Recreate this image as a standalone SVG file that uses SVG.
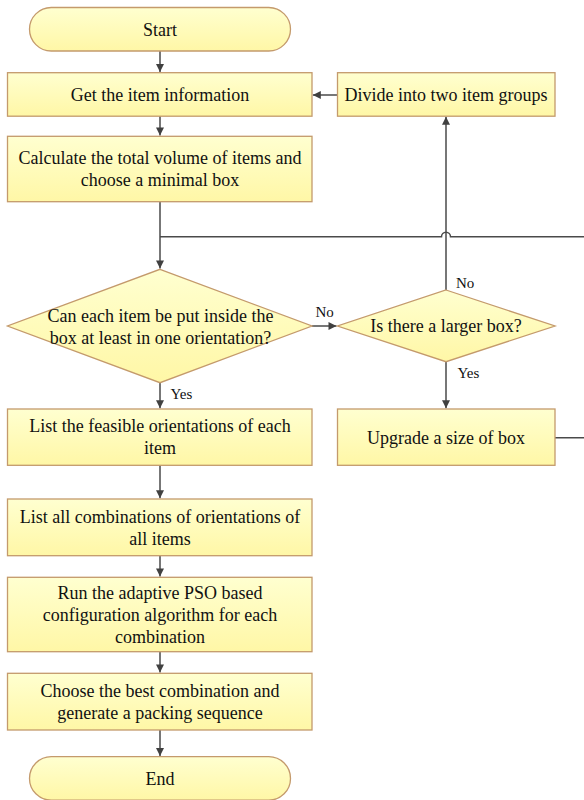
<svg xmlns="http://www.w3.org/2000/svg" width="584" height="800" viewBox="0 0 584 800">
<defs>
<linearGradient id="fill" x1="0" y1="0" x2="0" y2="1">
<stop offset="0" stop-color="#FFFFD0"/>
<stop offset="1" stop-color="#FFF7A6"/>
</linearGradient>
<marker id="arr" markerWidth="10" markerHeight="10" refX="9" refY="5" orient="auto" markerUnits="userSpaceOnUse">
<path d="M1,1 L9,5 L1,9 Z" fill="#404040"/>
</marker>
<style>
.n{fill:url(#fill);stroke:#C49A6C;stroke-width:1.3}
.t{font-family:'Liberation Serif','Times New Roman',Times,serif;font-size:18px;fill:#111;text-anchor:middle;dominant-baseline:central}
.l{font-family:'Liberation Serif','Times New Roman',Times,serif;font-size:15px;fill:#111;dominant-baseline:central}
.c{fill:none;stroke:#4A4A4A;stroke-width:1.5}
</style>
</defs>
<g id="connectors">
<path class="c" d="M160,51 V72" marker-end="url(#arr)"/>
<path class="c" d="M160,116 V135.5" marker-end="url(#arr)"/>
<path class="c" d="M160,201.7 V268.5" marker-end="url(#arr)"/>
<path class="c" d="M555,437.7 H590 V236.7 H450.5 A4.5,4.5 0 0 0 441.5,236.7 H160"/>
<path class="c" d="M312,326 H336.5" marker-end="url(#arr)"/>
<path class="c" d="M446,290 V116.8" marker-end="url(#arr)"/>
<path class="c" d="M337,95 H312.8" marker-end="url(#arr)"/>
<path class="c" d="M446,361.7 V408.3" marker-end="url(#arr)"/>
<path class="c" d="M160,382.7 V408.3" marker-end="url(#arr)"/>
<path class="c" d="M160,465.3 V498.3" marker-end="url(#arr)"/>
<path class="c" d="M160,555.7 V576.6" marker-end="url(#arr)"/>
<path class="c" d="M160,651.7 V672.6" marker-end="url(#arr)"/>
<path class="c" d="M160,730 V756" marker-end="url(#arr)"/>
<text class="l" x="315.5" y="311.5">No</text>
<text class="l" x="456" y="282.5">No</text>
<text class="l" x="457.5" y="373">Yes</text>
<text class="l" x="170.5" y="394">Yes</text>
</g>
<g id="start"><rect class="n" x="29.5" y="7.5" width="261" height="43.5" rx="21.75"/><text class="t" x="160" y="29.5">Start</text></g>
<g id="get-info"><rect class="n" x="7.5" y="72.7" width="304.5" height="43.5"/><text class="t" x="160" y="95">Get the item information</text></g>
<g id="divide"><rect class="n" x="337.5" y="72.7" width="217.5" height="43.5"/><text class="t" x="446" y="95">Divide into two item groups</text></g>
<g id="calculate"><rect class="n" x="7.5" y="136.3" width="304.5" height="65.4"/><text class="t" x="160" y="158.3">Calculate the total volume of items and</text><text class="t" x="160" y="180.3">choose a minimal box</text></g>
<g id="decision-fit"><polygon class="n" points="160,269.3 312,326 160,382.7 7.5,326"/><text class="t" x="160.5" y="315.7">Can each item be put inside the</text><text class="t" x="160.5" y="337.7">box at least in one orientation?</text></g>
<g id="decision-larger"><polygon class="n" points="446,290 555,326 446,361.7 337.5,326"/><text class="t" x="446" y="326">Is there a larger box?</text></g>
<g id="list-feasible"><rect class="n" x="7.5" y="409" width="304.5" height="56.3"/><text class="t" x="160" y="425.7">List the feasible orientations of each</text><text class="t" x="160" y="448.3">item</text></g>
<g id="upgrade"><rect class="n" x="337.5" y="409" width="217.5" height="56.3"/><text class="t" x="446" y="437.7">Upgrade a size of box</text></g>
<g id="list-all"><rect class="n" x="7.5" y="499" width="304.5" height="56.7"/><text class="t" x="160" y="516.7">List all combinations of orientations of</text><text class="t" x="160" y="539">all items</text></g>
<g id="run-pso"><rect class="n" x="7.5" y="577.3" width="304.5" height="74.4"/><text class="t" x="160" y="592.7">Run the adaptive PSO based</text><text class="t" x="160" y="615">configuration algorithm for each</text><text class="t" x="160" y="636.7">combination</text></g>
<g id="choose"><rect class="n" x="7.5" y="673.3" width="304.5" height="56.7"/><text class="t" x="160" y="690.7">Choose the best combination and</text><text class="t" x="160" y="713.3">generate a packing sequence</text></g>
<g id="end"><rect class="n" x="29.5" y="756.7" width="261" height="43.5" rx="21.75"/><text class="t" x="160" y="779">End</text></g>
</svg>
